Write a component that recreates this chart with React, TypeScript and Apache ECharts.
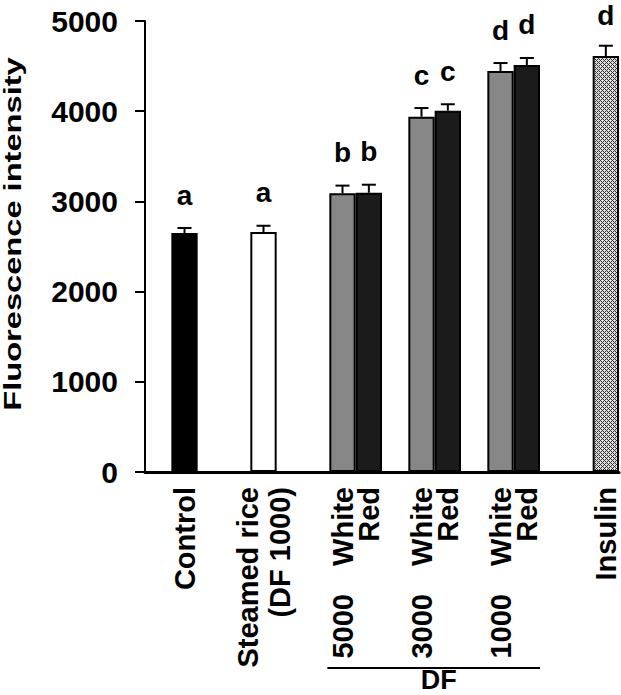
import React, { useEffect, useRef } from 'react';
import * as echarts from 'echarts';

// ---- data ----
const groupLabels = ['Control', 'Steamed rice\n(DF 1000)', 'White', 'Red', 'White', 'Red', 'White', 'Red', 'Insulin'];
const dilutionLabels = ['', '', '5000', '', '3000', '', '1000', '', ''];
const means = [2650, 2660, 3090, 3096, 3939, 4006, 4446, 4512, 4612];
const sems = [55, 70, 85, 89, 96, 71, 88, 78, 114];
const letters = ['a', 'a', 'b', 'b', 'c', 'c', 'd', 'd', 'd'];
const yMin = 0;
const yMax = 5000;
const yStep = 1000;
const yTitle = 'Fluorescence intensity';
const bracketTitle = 'DF';

// ---- layout / style ----
const slotOf = [1, 4, 7, 8, 10, 11, 13, 14, 17];
const slotCount = 18;
const fills = ['#000000', '#ffffff', '#878787', '#1b1b1b', '#878787', '#1b1b1b', '#878787', '#1b1b1b', 'hatch'];
const FONT = '"Liberation Sans", Arial, Helvetica, sans-serif';

function makeHatch(): HTMLCanvasElement {
  const c = document.createElement('canvas');
  c.width = 4;
  c.height = 4;
  const ctx = c.getContext('2d')!;
  ctx.fillStyle = '#dedede';
  ctx.fillRect(0, 0, 4, 4);
  ctx.fillStyle = '#333333';
  for (let x = 0; x < 4; x++) {
    for (let y = 0; y < 4; y++) {
      if ((x + y) % 4 === 0 || (x - y + 4) % 4 === 0) ctx.fillRect(x, y, 1, 1);
    }
  }
  return c;
}

export default function App() {
  const ref = useRef<HTMLDivElement>(null);

  useEffect(() => {
    document.body.style.margin = '0';
    if (!ref.current) return;
    const chart = echarts.init(ref.current, undefined, { renderer: 'svg' });
    const hatch = makeHatch();

    const cats: any[] = new Array(slotCount).fill('');
    const dils: string[] = new Array(slotCount).fill('');
    const barData: any[] = new Array(slotCount).fill('-');
    groupLabels.forEach((g, i) => {
      cats[slotOf[i]] = g.includes('\n') ? { value: g, textStyle: { lineHeight: 32 } } : g;
      dils[slotOf[i]] = dilutionLabels[i];
      const f = fills[i];
      barData[slotOf[i]] = {
        value: means[i],
        itemStyle: {
          color: f === 'hatch' ? { image: hatch, repeat: 'repeat' } : f,
          borderColor: '#000',
          borderWidth: 2,
        },
      };
    });
    const errData = means.map((m, i) => [slotOf[i], m, sems[i]]);

    const labelStyle = {
      fontFamily: FONT,
      fontWeight: 'bold' as const,
      fontSize: 29,
      color: '#000',
    };

    chart.setOption({
      animation: false,
      backgroundColor: '#ffffff',
      grid: { left: 145, right: 2, top: 21, bottom: 223, containLabel: false, outerBoundsMode: 'none' },
      xAxis: [
        {
          type: 'category',
          data: cats,
          axisLine: { show: true, lineStyle: { color: '#000', width: 3 } },
          axisTick: { show: false },
          axisLabel: { ...labelStyle, rotate: 90, interval: 0, margin: 15, lineHeight: 25 },
          splitLine: { show: false },
        },
        {
          type: 'category',
          data: dils,
          position: 'bottom',
          axisLine: { show: false },
          axisTick: { show: false },
          axisLabel: { ...labelStyle, rotate: 90, interval: 0, margin: 122, lineHeight: 25 },
          splitLine: { show: false },
        },
      ],
      yAxis: {
        type: 'value',
        min: yMin,
        max: yMax,
        interval: yStep,
        axisLine: { show: true, lineStyle: { color: '#000', width: 2 } },
        axisTick: { show: true, length: 10, lineStyle: { color: '#000', width: 2 } },
        axisLabel: { ...labelStyle, fontSize: 30, margin: 27, formatter: (v: number) => String(v) },
        splitLine: { show: false },
      },
      series: [
        {
          type: 'bar',
          data: barData,
          barWidth: '100%',
          xAxisIndex: 0,
        },
        {
          type: 'custom',
          xAxisIndex: 0,
          data: errData,
          clip: false,
          z: 5,
          renderItem: (params: any, api: any) => {
            const slot = api.value(0);
            const m = api.value(1);
            const e = api.value(2);
            const base = api.coord([slot, m]);
            const top = api.coord([slot, m + e]);
            const idx = params.dataIndex;
            return {
              type: 'group',
              children: [
                {
                  type: 'line',
                  shape: { x1: base[0], y1: base[1], x2: base[0], y2: top[1] },
                  style: { stroke: '#000', lineWidth: 2 },
                },
                {
                  type: 'line',
                  shape: { x1: base[0] - 7, y1: top[1], x2: base[0] + 7, y2: top[1] },
                  style: { stroke: '#000', lineWidth: 2 },
                },
                {
                  type: 'text',
                  x: base[0],
                  y: Math.max(top[1] - 33, 15),
                  style: {
                    text: letters[idx],
                    fill: '#000',
                    font: `bold 28px ${FONT}`,
                    lineHeight: 21,
                    align: 'center',
                    verticalAlign: 'middle',
                  },
                },
              ],
            };
          },
        },
      ],
    });

    // bracket under the dilution labels, placed from the axis scale
    const px = (i: number) => chart.convertToPixel({ xAxisIndex: 0 }, i) as unknown as number;
    const slotW = px(1) - px(0);
    const firstDil = dilutionLabels.findIndex((d) => d !== '');
    let lastRed = 0;
    groupLabels.forEach((g, i) => {
      if (g === 'Red') lastRed = i;
    });
    const bx1 = px(slotOf[firstDil]) - slotW / 2 - 2;
    const bx2 = px(slotOf[lastRed]) + slotW / 2;

    chart.setOption({
      graphic: [
        {
          type: 'line',
          shape: { x1: bx1, y1: 668, x2: bx2, y2: 668 },
          style: { stroke: '#000', lineWidth: 2 },
        },
        {
          type: 'text',
          x: (bx1 + bx2) / 2 + 5,
          y: 680,
          style: {
            text: bracketTitle,
            fill: '#000',
            font: `bold 27px ${FONT}`,
            lineHeight: 22,
            align: 'center',
            verticalAlign: 'middle',
          },
        },
        {
          type: 'text',
          x: 13,
          y: 234,
          rotation: Math.PI / 2,
          scaleX: 1.36,
          style: {
            text: yTitle,
            fill: '#000',
            font: `bold 24px ${FONT}`,
            lineHeight: 20,
            align: 'center',
            verticalAlign: 'middle',
          },
        },
      ],
    });

    return () => chart.dispose();
  }, []);

  return <div ref={ref} style={{ width: 621, height: 695 }} />;
}
